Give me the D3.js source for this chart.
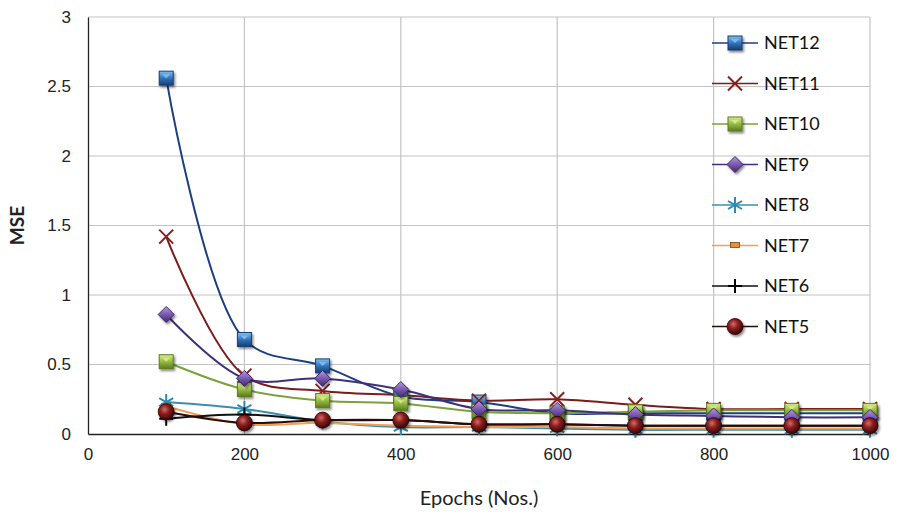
<!DOCTYPE html>
<html>
<head>
<meta charset="utf-8">
<script src="https://cdn.jsdelivr.net/npm/d3@7"></script>
<style>
  html, body { margin: 0; padding: 0; background: #fff; }
  svg { display: block; font-family: Lato, "Open Sans", "Liberation Sans", sans-serif; }
</style>
</head>
<body>
<svg id="chart" width="897" height="512"></svg>
<script>
// Training epochs (x) and mean squared error per network (y)
const epochs = [100, 200, 300, 400, 500, 600, 700, 800, 900, 1000];
const net12 = [2.56, 0.68, 0.49, 0.27, 0.23, 0.15, 0.15, 0.15, 0.15, 0.15];
const net11 = [1.42, 0.42, 0.31, 0.28, 0.24, 0.25, 0.21, 0.18, 0.18, 0.18];
const net10 = [0.52, 0.32, 0.24, 0.22, 0.16, 0.15, 0.16, 0.17, 0.17, 0.17];
const net9  = [0.86, 0.40, 0.40, 0.32, 0.18, 0.17, 0.14, 0.13, 0.12, 0.12];
const net8  = [0.23, 0.18, 0.09, 0.05, 0.05, 0.04, 0.03, 0.03, 0.03, 0.03];
const net7  = [0.20, 0.07, 0.08, 0.06, 0.05, 0.05, 0.04, 0.04, 0.04, 0.04];
const net6  = [0.11, 0.14, 0.10, 0.10, 0.07, 0.07, 0.06, 0.06, 0.06, 0.06];
const net5  = [0.16, 0.08, 0.10, 0.10, 0.07, 0.07, 0.06, 0.06, 0.06, 0.06];
const seriesNames = ["NET12", "NET11", "NET10", "NET9", "NET8", "NET7", "NET6", "NET5"];
const xTicks = [0, 200, 400, 600, 800, 1000];
const yTicks = [0, 0.5, 1, 1.5, 2, 2.5, 3];

const seriesValues = [net12, net11, net10, net9, net8, net7, net6, net5];
const styles = {
  NET12: { line: "#1c3f80", marker: "square", fill: "#2f6db3", light: "#7fc0f0", dark: "#173e70" },
  NET11: { line: "#7a1c1c", marker: "x", fill: "#8b1e1e" },
  NET10: { line: "#7ba23a", marker: "square", fill: "#8fb53c", light: "#d8ec8a", dark: "#5b7a20" },
  NET9:  { line: "#3f3078", marker: "diamond", fill: "#7354a8", light: "#b49ae0", dark: "#3e2a6c" },
  NET8:  { line: "#3a8fb0", marker: "star", fill: "#2a8cb0" },
  NET7:  { line: "#f0a055", marker: "bar", fill: "#e8913a", dark: "#7a4510" },
  NET6:  { line: "#111111", marker: "plus", fill: "#000" },
  NET5:  { line: "#2a0a0a", marker: "ball", fill: "#8b1e1e" }
};

const svg = d3.select("#chart");
const margin = { left: 89, right: 27, top: 17, bottom: 78 };
const W = 897, H = 512;
const x = d3.scaleLinear().domain([0, 1000]).range([margin.left - 1, W - margin.right]);
const y = d3.scaleLinear().domain([0, 3]).range([H - margin.bottom, margin.top]);

// Gradients and shadow for the markers
const defs = svg.append("defs");
const shadow = defs.append("filter").attr("id", "shadow").attr("x", "-50%").attr("y", "-50%").attr("width", "200%").attr("height", "200%");
shadow.append("feDropShadow").attr("dx", 1.5).attr("dy", 2).attr("stdDeviation", 1.3).attr("flood-color", "#000").attr("flood-opacity", 0.45);
seriesNames.forEach(n => {
  const s = styles[n];
  if (s.light) {
    const g = defs.append("linearGradient").attr("id", "g-" + n).attr("x1", 0).attr("y1", 0).attr("x2", 0).attr("y2", 1);
    g.append("stop").attr("offset", "0%").attr("stop-color", s.light);
    g.append("stop").attr("offset", "55%").attr("stop-color", s.fill);
    g.append("stop").attr("offset", "100%").attr("stop-color", s.dark);
  }
});
const rg = defs.append("radialGradient").attr("id", "ballGrad").attr("cx", "40%").attr("cy", "35%").attr("r", "65%");
rg.append("stop").attr("offset", "0%").attr("stop-color", "#d46a6a");
rg.append("stop").attr("offset", "45%").attr("stop-color", "#8b1e1e");
rg.append("stop").attr("offset", "100%").attr("stop-color", "#3a0606");

// Grid
const grid = svg.append("g");
grid.selectAll("line.h").data(yTicks.filter(d => d > 0)).join("line")
  .attr("x1", x(0)).attr("x2", x(1000)).attr("y1", d => y(d)).attr("y2", d => y(d))
  .attr("stroke", "#c4c4c4").attr("stroke-width", 1.2);
grid.selectAll("line.v").data(xTicks.filter(d => d > 0)).join("line")
  .attr("x1", d => x(d)).attr("x2", d => x(d)).attr("y1", y(0)).attr("y2", y(3))
  .attr("stroke", "#c4c4c4").attr("stroke-width", 1.2);

// Axes
const xAxis = d3.axisBottom(x).tickValues(xTicks).tickSize(0).tickPadding(14).tickFormat(d3.format("d"));
const yAxis = d3.axisLeft(y).tickValues(yTicks).tickSize(0).tickPadding(17).tickFormat(d => String(d));
const gx = svg.append("g").attr("transform", `translate(0,${y(0)})`).call(xAxis);
const gy = svg.append("g").attr("transform", `translate(${x(0)},0)`).call(yAxis);
[gx, gy].forEach(g => {
  g.select(".domain").attr("stroke", "#222").attr("stroke-width", 1.3);
  g.selectAll("text").attr("font-size", 17).attr("fill", "#222");
});

svg.append("text").attr("x", 479).attr("y", 505)
  .attr("text-anchor", "middle").attr("font-size", 20).attr("fill", "#222").text("Epochs (Nos.)");
svg.append("text").attr("transform", `translate(24,${(y(0) + y(3)) / 2}) rotate(-90)`)
  .attr("text-anchor", "middle").attr("font-size", 19).attr("font-weight", "bold").attr("fill", "#222").text("MSE");

// Marker drawing
function drawMarker(g, name) {
  const s = styles[name];
  switch (s.marker) {
    case "square":
      g.append("rect").attr("x", -7).attr("y", -7).attr("width", 14).attr("height", 14)
        .attr("fill", `url(#g-${name})`).attr("stroke", s.dark).attr("stroke-width", 1).attr("filter", "url(#shadow)");
      g.append("path").attr("d", "M-4,-4 L4,-4 L0,0 Z").attr("fill", s.light).attr("opacity", 0.9);
      break;
    case "diamond":
      g.append("path").attr("d", "M0,-8 L8,0 L0,8 L-8,0 Z")
        .attr("fill", `url(#g-${name})`).attr("stroke", s.dark).attr("stroke-width", 1).attr("filter", "url(#shadow)");
      break;
    case "x":
      g.append("path").attr("d", "M-7,-7 L7,7 M-7,7 L7,-7")
        .attr("stroke", s.fill).attr("stroke-width", 2).attr("fill", "none");
      break;
    case "star":
      g.append("path").attr("d", "M0,-8 L0,8 M-7,-4 L7,4 M-7,4 L7,-4")
        .attr("stroke", s.fill).attr("stroke-width", 2).attr("fill", "none");
      break;
    case "bar":
      g.append("rect").attr("x", -4.5).attr("y", -3).attr("width", 9).attr("height", 5)
        .attr("fill", s.fill).attr("stroke", s.dark).attr("stroke-width", 0.8);
      break;
    case "plus":
      g.append("path").attr("d", "M-7,0 L7,0 M0,-7 L0,7")
        .attr("stroke", s.fill).attr("stroke-width", 2).attr("fill", "none");
      break;
    case "ball":
      g.append("circle").attr("r", 8).attr("fill", "url(#ballGrad)")
        .attr("stroke", "#2a0303").attr("stroke-width", 0.8).attr("filter", "url(#shadow)");
      break;
  }
}

// Smoothed series lines
const line = d3.line().x(d => x(d[0])).y(d => y(d[1])).curve(d3.curveCatmullRom.alpha(0.5));
const plot = svg.append("g");
seriesNames.forEach((name, i) => {
  const pts = epochs.map((e, j) => [e, seriesValues[i][j]]);
  plot.append("path").datum(pts).attr("d", line)
    .attr("fill", "none").attr("stroke", styles[name].line).attr("stroke-width", 2);
});
seriesNames.forEach((name, i) => {
  const pts = epochs.map((e, j) => [e, seriesValues[i][j]]);
  pts.forEach(p => {
    const g = plot.append("g").attr("transform", `translate(${x(p[0])},${y(p[1])})`);
    drawMarker(g, name);
  });
});

// Legend
const legend = svg.append("g");
seriesNames.forEach((name, i) => {
  const cy = 43 + i * 40.5;
  const g = legend.append("g").attr("transform", `translate(0,${cy})`);
  g.append("line").attr("x1", 712).attr("x2", 758).attr("y1", 0).attr("y2", 0)
    .attr("stroke", styles[name].line).attr("stroke-width", 1.5);
  const m = g.append("g").attr("transform", "translate(735,0)");
  drawMarker(m, name);
  g.append("text").attr("x", 764).attr("y", 0).attr("dy", "0.36em")
    .attr("font-size", 18).attr("fill", "#111").text(name);
});
</script>
</body>
</html>
